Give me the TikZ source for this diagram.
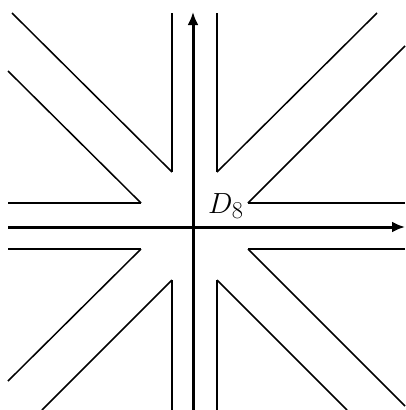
\documentclass[tikz,border=0pt]{standalone}
\usetikzlibrary{arrows.meta}
\begin{document}
\begin{tikzpicture}[x=1pt,y=-1pt,
  axis/.style={line width=3pt,-{Latex[length=13pt,width=11pt]}},
  wall/.style={line width=2.8pt,line join=miter},
  diag/.style={line width=1.5pt},
  hwall/.style={line width=2.6pt}]
\useasboundingbox (0,0) rectangle (405,410);
% axes
\draw[axis] (8,227) -- (405,227);
\draw[axis] (193,410) -- (193,12);
% upper left
\draw[wall] (172,13) -- (172,172);
\draw[diag] (172,172) -- (12,13);
\draw[hwall] (8,203) -- (141,203);
\draw[diag] (141,203) -- (8,71);
% upper right
\draw[wall] (217,13) -- (217,172);
\draw[diag] (217,172) -- (377,13);
\draw[hwall] (405,203) -- (248,203);
\draw[diag] (248,203) -- (405,46);
% lower left
\draw[hwall] (8,249) -- (141,249);
\draw[diag] (141,249) -- (8,381);
\draw[wall] (172,410) -- (172,280);
\draw[diag] (172,280) -- (42,410);
% lower right
\draw[hwall] (405,249) -- (248,249);
\draw[diag] (248,249) -- (405,406);
\draw[wall] (217,410) -- (217,280);
\draw[diag] (217,280) -- (347,410);
% label
\node[anchor=base west,inner sep=0pt,font=\Huge,scale=1.17] (lbl) at (208,213) {$D_8$};
\end{tikzpicture}
\end{document}
